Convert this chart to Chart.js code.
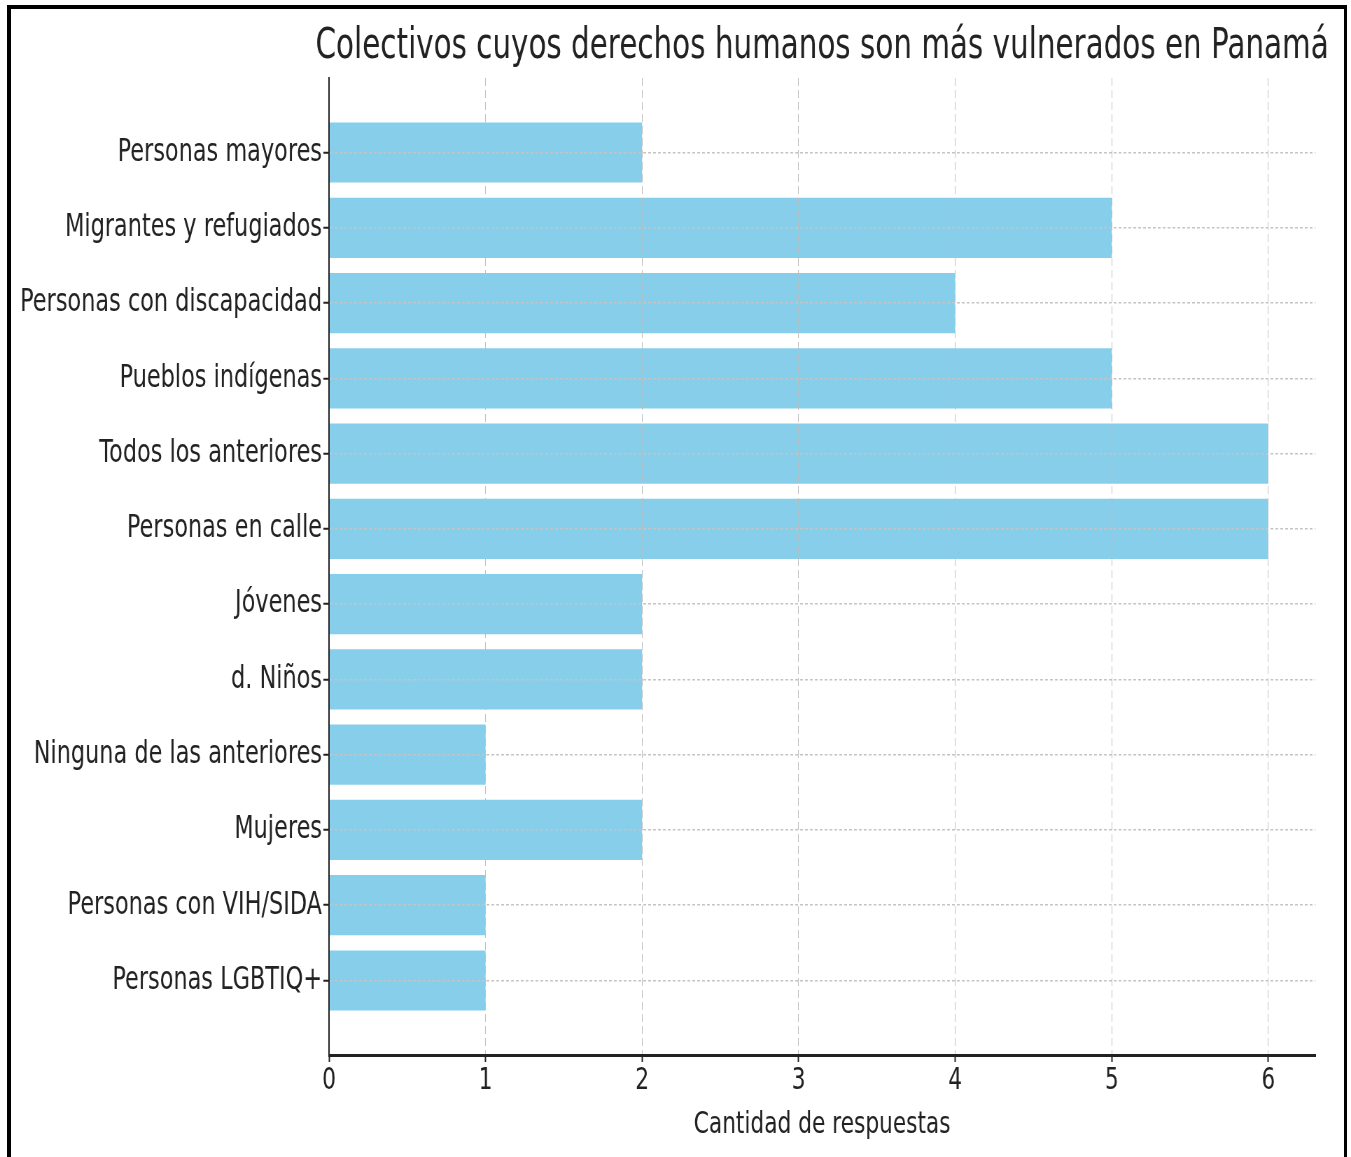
<!DOCTYPE html>
<html lang="es">
<head>
<meta charset="utf-8" />
<title>Colectivos vulnerados</title>
<script src="https://cdn.jsdelivr.net/npm/chart.js@4.4.1/dist/chart.umd.min.js"></script>
<style>
  html, body { margin: 0; padding: 0; background: #fff; overflow: hidden; }
  /* the reference is horizontally squeezed, so the chart is drawn wide and scaled */
  #wrap { position: absolute; left: 0; top: 0; width: 1930px; height: 1157px; transform: scaleX(0.7); transform-origin: 0 0; z-index: 1; }
  #frame { position: absolute; left: 7px; top: 5px; width: 1340px; height: 1200px; box-sizing: border-box; border: 4px solid #000; border-right-width: 3px; pointer-events: none; z-index: 2; }
</style>
</head>
<body>
<div id="wrap"><canvas id="chart" width="1930" height="1157"></canvas></div>
<div id="frame"></div>
<script>
// categorias de arriba hacia abajo
const categorias = [
  "Personas mayores",
  "Migrantes y refugiados",
  "Personas con discapacidad",
  "Pueblos indígenas",
  "Todos los anteriores",
  "Personas en calle",
  "Jóvenes",
  "d. Niños",
  "Ninguna de las anteriores",
  "Mujeres",
  "Personas con VIH/SIDA",
  "Personas LGBTIQ+",
];
const respuestas = [2, 5, 4, 5, 6, 6, 2, 2, 1, 2, 1, 1];
const xTicks = [0, 1, 2, 3, 4, 5, 6];

const titulo = "Colectivos cuyos derechos humanos son más vulnerados en Panamá";
const tituloX = "Cantidad de respuestas";

const fuente = "'DejaVu Sans', sans-serif";
const texto = "#222";

const puntos = categorias.map((c, i) => ({ x: respuestas[i], y: i }));

// titulo centrado sobre el area del grafico, sin recorte de ancho
const tituloPlugin = {
  id: "tituloCentrado",
  afterDraw(chart) {
    const { ctx, chartArea } = chart;
    ctx.save();
    ctx.fillStyle = texto;
    ctx.font = "42px " + fuente;
    ctx.textAlign = "center";
    ctx.textBaseline = "alphabetic";
    ctx.fillText(titulo, (chartArea.left + chartArea.right) / 2, 58);
    ctx.restore();
  },
};

new Chart(document.getElementById("chart"), {
  type: "bar",
  data: {
    datasets: [
      {
        data: puntos,
        backgroundColor: "#87CEEB",
        borderWidth: 0,
        barPercentage: 0.8,
        categoryPercentage: 1,
      },
    ],
  },
  plugins: [tituloPlugin],
  options: {
    indexAxis: "y",
    responsive: false,
    animation: false,
    devicePixelRatio: 1,
    layout: { padding: { top: 78, right: 51, bottom: 0, left: 0 } },
    plugins: {
      legend: { display: false },
      tooltip: { enabled: false },
      title: { display: false },
    },
    scales: {
      x: {
        type: "linear",
        min: 0,
        max: 6.3,
        offset: false,
        afterBuildTicks: (s) => {
          s.ticks = xTicks.map((v) => ({ value: v }));
        },
        afterFit: (s) => {
          s.height = 102;
        },
        grid: { offset: false, color: "#bdbdbd", lineWidth: 1, z: 1, tickColor: "#222", tickLength: 7, tickWidth: 2 },
        border: { color: "#222", width: 3, dash: [8, 4], z: 2 },
        ticks: { color: texto, padding: 0, font: { family: fuente, size: 31 } },
        title: {
          display: true,
          text: tituloX,
          color: texto,
          font: { family: fuente, size: 31 },
          padding: { top: 0, bottom: 13 },
        },
      },
      y: {
        type: "linear",
        reverse: true,
        min: -0.99,
        max: 11.99,
        offset: false,
        afterBuildTicks: (s) => {
          s.ticks = categorias.map((c, i) => ({ value: i }));
        },
        afterFit: (s) => {
          s.width = 470;
        },
        grid: { offset: false, color: "#c4c4c4", lineWidth: 1.5, z: 1, tickColor: "#222", tickLength: 8, tickWidth: 2 },
        border: { color: "#222", width: 2, dash: [4, 3], z: 2 },
        ticks: {
          color: texto,
          padding: 2,
          autoSkip: false,
          font: { family: fuente, size: 32 },
          callback: (v) => categorias[v],
        },
      },
    },
  },
});
</script>
</body>
</html>
